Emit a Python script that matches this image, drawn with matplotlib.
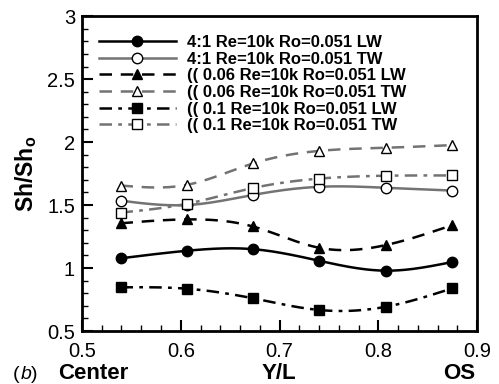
import numpy as np
import matplotlib.pyplot as plt

plt.rcParams['font.family'] = ['Liberation Sans', 'DejaVu Sans']
plt.rcParams['mathtext.fontset'] = 'custom'
plt.rcParams['mathtext.bf'] = 'Liberation Sans:bold'
plt.rcParams['mathtext.rm'] = 'Liberation Sans'

###############################################################################

yl = [0.539, 0.606, 0.673, 0.740, 0.808, 0.875]

lw_41 = [1.077, 1.137, 1.15, 1.058, 0.979, 1.048]
tw_41 = [1.535, 1.50, 1.58, 1.645, 1.637, 1.615]
lw_006 = [1.355, 1.386, 1.33, 1.161, 1.183, 1.341]
tw_006 = [1.655, 1.66, 1.83, 1.93, 1.955, 1.976]
lw_01 = [0.847, 0.836, 0.76, 0.667, 0.693, 0.839]
tw_01 = [1.44, 1.51, 1.635, 1.71, 1.733, 1.735]

labels = ['4:1 Re=10k Ro=0.051 LW', '4:1 Re=10k Ro=0.051 TW',
          '(( 0.06 Re=10k Ro=0.051 LW', '(( 0.06 Re=10k Ro=0.051 TW',
          '(( 0.1 Re=10k Ro=0.051 LW', '(( 0.1 Re=10k Ro=0.051 TW']

###############################################################################

def naturalSpline(x, y, n=200):
    x = np.asarray(x, float)
    y = np.asarray(y, float)
    k = len(x)
    h = np.diff(x)
    A = np.zeros((k, k))
    b = np.zeros(k)
    A[0, 0] = 1
    A[-1, -1] = 1
    for i in range(1, k-1):
        A[i, i-1] = h[i-1]
        A[i, i] = 2*(h[i-1]+h[i])
        A[i, i+1] = h[i]
        b[i] = 6*((y[i+1]-y[i])/h[i]-(y[i]-y[i-1])/h[i-1])
    M = np.linalg.solve(A, b)
    xs = np.linspace(x[0], x[-1], n)
    idx = np.clip(np.searchsorted(x, xs)-1, 0, k-2)
    x0, x1 = x[idx], x[idx+1]
    hh = x1-x0
    ys = (M[idx]*(x1-xs)**3/(6*hh)+M[idx+1]*(xs-x0)**3/(6*hh)
          +(y[idx]/hh-M[idx]*hh/6)*(x1-xs)
          +(y[idx+1]/hh-M[idx+1]*hh/6)*(xs-x0))
    return xs, ys

###############################################################################

gray = '#737373'
dash = (0, (5, 3.5))
dashdot = (0, (5, 2.5, 1.5, 2.5))
styles = [('k', '-', 'o', 'k'), (gray, '-', 'o', 'w'),
          ('k', dash, '^', 'k'), (gray, dash, '^', 'w'),
          ('k', dashdot, 's', 'k'), (gray, dashdot, 's', 'w')]
series = [lw_41, tw_41, lw_006, tw_006, lw_01, tw_01]

fig = plt.figure(figsize=(4.99, 3.84), dpi=100)
ax = fig.add_axes([0.1643, 0.138, 0.7917, 0.82])

for data, (col, ls, mk, fc), lab in zip(series, styles, labels):
    xs, ys = naturalSpline(yl, data)
    ax.plot(xs, ys, color=col, ls=ls, lw=1.8)
    ax.plot(yl, data, ls='none', marker=mk, ms=7.5, mfc=fc, mec='k',
            mew=1.0)
    ax.plot([], [], color=col, ls=ls, lw=1.8, marker=mk, ms=7.5, mfc=fc,
            mec='k', mew=1.0, label=lab)

ax.set_xlim(0.5, 0.9)
ax.set_ylim(0.5, 3)
ax.set_xticks([0.5, 0.6, 0.7, 0.8, 0.9])
ax.set_xticklabels(['0.5', '0.6', '0.7', '0.8', '0.9'])
ax.set_yticks([0.5, 1, 1.5, 2, 2.5, 3])
ax.set_yticklabels(['0.5', '1', '1.5', '2', '2.5', '3'])
ax.set_xticks(np.arange(0.5, 0.9, 0.02), minor=True)
ax.set_yticks(np.arange(0.5, 3.0, 0.1), minor=True)
ax.tick_params(which='major', direction='in', length=8, width=1.5,
               labelsize=14.5, top=False, right=False)
ax.tick_params(axis='x', which='major', pad=8)
ax.tick_params(axis='y', which='major', pad=5)
ax.tick_params(which='minor', direction='in', length=4, width=1.0,
               top=False, right=False)
for s in ax.spines.values():
    s.set_linewidth(2)

ax.set_ylabel(r'$\mathbf{Sh/Sh_o}$', fontsize=16.5, labelpad=6)

leg = ax.legend(loc='upper left', bbox_to_anchor=(0.018, 0.972),
                frameon=False, handlelength=4.6, handletextpad=0.7,
                labelspacing=0.1, borderaxespad=0.2,
                prop={'weight': 'bold', 'size': 12})

fig.text(0.026, 0.013, '(', fontsize=14)
fig.text(0.041, 0.013, 'b', fontsize=14, style='italic')
fig.text(0.063, 0.013, ')', fontsize=14)
fig.text(0.116, 0.013, 'Center', fontsize=16, weight='bold')
fig.text(0.525, 0.013, 'Y/L', fontsize=16, weight='bold')
fig.text(0.888, 0.013, 'OS', fontsize=16, weight='bold')

fig.savefig('out.png', dpi=100)
